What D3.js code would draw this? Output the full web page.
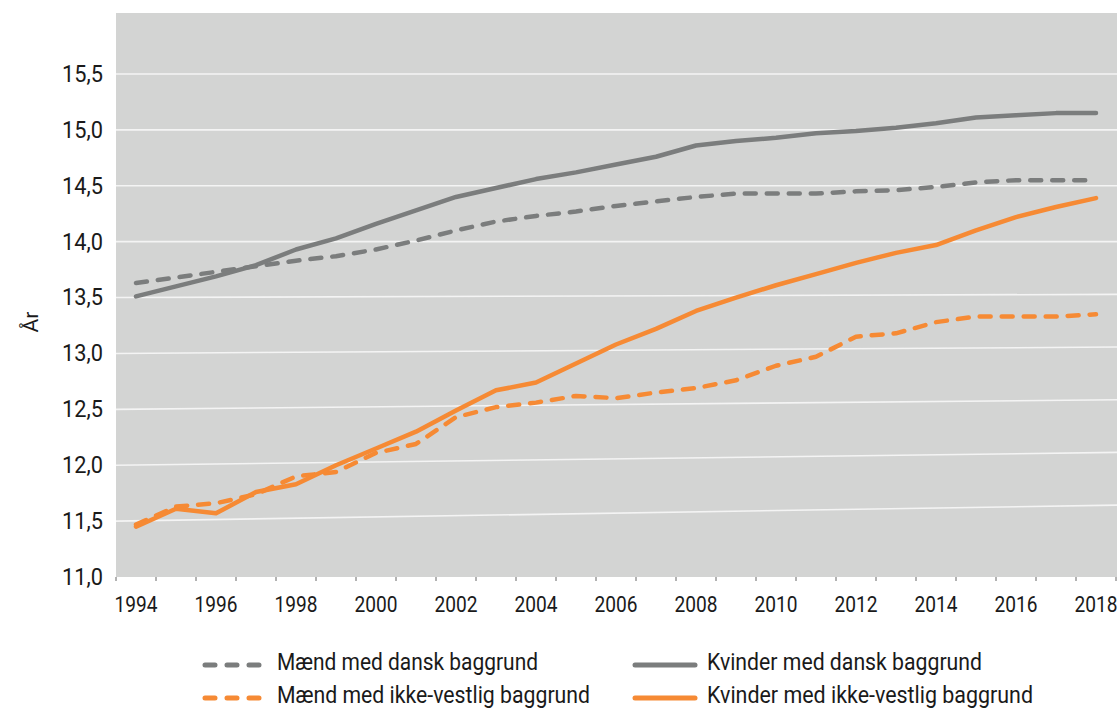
<!DOCTYPE html>
<html>
<head>
<meta charset="utf-8">
<script src="https://cdn.jsdelivr.net/npm/d3@7"></script>
<style>
  body { margin: 0; background: #fff; }
  svg text { font-family: Roboto, "Noto Sans", sans-serif; fill: #1a1a1a; }
</style>
</head>
<body>
<svg id="svg" width="1120" height="708"></svg>
<script>
var years = [1994,1995,1996,1997,1998,1999,2000,2001,2002,2003,2004,2005,2006,2007,2008,2009,2010,2011,2012,2013,2014,2015,2016,2017,2018];
var yearLabels = [1994,1996,1998,2000,2002,2004,2006,2008,2010,2012,2014,2016,2018];
var yTicks = [11.0,11.5,12.0,12.5,13.0,13.5,14.0,14.5,15.0,15.5];

var maendDansk =   [13.63,13.68,13.73,13.78,13.83,13.87,13.93,14.01,14.10,14.18,14.23,14.27,14.32,14.36,14.40,14.43,14.43,14.43,14.45,14.46,14.49,14.53,14.55,14.55,14.55];
var kvinderDansk = [13.51,13.60,13.69,13.79,13.93,14.03,14.16,14.28,14.40,14.48,14.56,14.62,14.69,14.76,14.86,14.90,14.93,14.97,14.99,15.02,15.06,15.11,15.13,15.15,15.15];
var maendIkke =    [11.47,11.63,11.66,11.74,11.90,11.94,12.11,12.19,12.43,12.52,12.56,12.62,12.60,12.65,12.69,12.76,12.89,12.97,13.15,13.18,13.28,13.33,13.33,13.33,13.35];
var kvinderIkke =  [11.45,11.61,11.57,11.76,11.83,12.00,12.15,12.30,12.49,12.67,12.74,12.91,13.08,13.22,13.38,13.50,13.61,13.71,13.81,13.90,13.97,14.10,14.22,14.31,14.39];

var seriesNames = ["Mænd med dansk baggrund","Kvinder med dansk baggrund","Mænd med ikke-vestlig baggrund","Kvinder med ikke-vestlig baggrund"];

var grey = "#7b7d7d", orange = "#f68a34";
var series = [
  {name: seriesNames[0], values: maendDansk, color: grey, dash: true},
  {name: seriesNames[1], values: kvinderDansk, color: grey, dash: false},
  {name: seriesNames[2], values: maendIkke, color: orange, dash: true},
  {name: seriesNames[3], values: kvinderIkke, color: orange, dash: false}
];

var svg = d3.select("#svg");
var plotL = 116, plotR = 1117, plotT = 13, plotB = 577;

var x = d3.scaleBand().domain(years).range([plotL, plotL + 1000]);
var y = d3.scaleLinear().domain([11, 15.5]).range([plotB, 74]);

// plot background
svg.append("rect")
  .attr("x", plotL).attr("y", plotT)
  .attr("width", plotR - plotL).attr("height", plotB - plotT)
  .attr("fill", "#d3d4d3");

// grid (slightly skewed towards the bottom, as in the source)
svg.selectAll(".grid").data(yTicks.slice(1)).enter()
  .append("line")
  .attr("x1", plotL)
  .attr("x2", plotR)
  .attr("y1", function(d) { return y(d); })
  .attr("y2", function(d) { return y(d) - Math.max(0, 14 - d) * 6.4; })
  .attr("stroke", "#f4f4f4")
  .attr("stroke-width", 1.6);

// x axis
var xAxis = d3.axisBottom(x)
  .tickValues(yearLabels)
  .tickSize(0)
  .tickPadding(19);
var gx = svg.append("g").attr("transform", "translate(0," + plotB + ")").call(xAxis);
gx.select(".domain").remove();
gx.selectAll("text")
  .attr("font-size", 22)
  .attr("fill", "#1a1a1a")
  .attr("textLength", 43)
  .attr("lengthAdjust", "spacingAndGlyphs");

// tick marks on band edges
var edges = years.map(function(d) { return x(d); }).concat([x(2018) + x.bandwidth()]);
svg.selectAll(".edge").data(edges).enter()
  .append("line")
  .attr("x1", function(d) { return d; })
  .attr("x2", function(d) { return d; })
  .attr("y1", plotB)
  .attr("y2", plotB + 4)
  .attr("stroke", "#666")
  .attr("stroke-width", 1);

// y axis labels
var yAxis = d3.axisLeft(y)
  .tickValues(yTicks)
  .tickSize(0)
  .tickPadding(13)
  .tickFormat(function(d) { return d3.format(".1f")(d).replace(".", ","); });
var gy = svg.append("g").attr("transform", "translate(" + plotL + ",0)").call(yAxis);
gy.select(".domain").remove();
gy.selectAll("text")
  .attr("font-size", 23)
  .attr("fill", "#1a1a1a")
  .attr("textLength", 41)
  .attr("lengthAdjust", "spacingAndGlyphs");

svg.append("text")
  .attr("transform", "translate(38,322) rotate(-90)")
  .attr("text-anchor", "middle")
  .attr("font-size", 20)
  .attr("textLength", 21)
  .attr("lengthAdjust", "spacingAndGlyphs")
  .text("År");

// lines
var line = d3.line()
  .x(function(d, i) { return x(years[i]) + x.bandwidth() / 2; })
  .y(function(d) { return y(d); });

svg.selectAll(".series").data(series).enter()
  .append("path")
  .attr("d", function(d) { return line(d.values); })
  .attr("fill", "none")
  .attr("stroke", function(d) { return d.color; })
  .attr("stroke-width", 4.5)
  .attr("stroke-linecap", "round")
  .attr("stroke-linejoin", "round")
  .attr("stroke-dasharray", function(d) { return d.dash ? "11,11" : null; });

// legend
var legendPos = [[202, 665], [632, 665], [202, 698], [632, 698]];
var legendLen = [261, 275, 313, 326];
var lg = svg.selectAll(".legend").data(series).enter()
  .append("g")
  .attr("transform", function(d, i) { return "translate(" + legendPos[i][0] + "," + legendPos[i][1] + ")"; });
lg.append("line")
  .attr("x1", 3)
  .attr("x2", function(d) { return d.dash ? 58 : 63; })
  .attr("y1", 0).attr("y2", 0)
  .attr("stroke", function(d) { return d.color; })
  .attr("stroke-width", 5)
  .attr("stroke-linecap", "round")
  .attr("stroke-dasharray", function(d) { return d.dash ? "10,12" : null; });
lg.append("text")
  .attr("x", function(d) { return d.dash ? 75 : 75; })
  .attr("y", 5)
  .attr("font-size", 24)
  .attr("textLength", function(d, i) { return legendLen[i]; })
  .attr("lengthAdjust", "spacingAndGlyphs")
  .text(function(d) { return d.name; });
</script>
</body>
</html>
